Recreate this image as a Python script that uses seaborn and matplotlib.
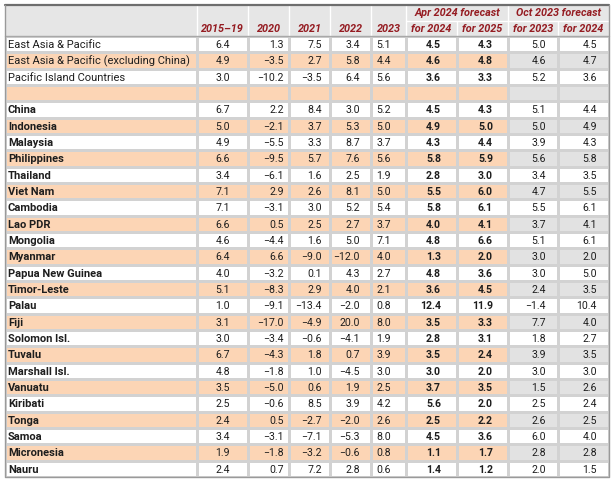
import numpy as np
import pandas as pd
import seaborn as sns
import matplotlib
matplotlib.use("Agg")
import matplotlib.pyplot as plt
from matplotlib.colors import ListedColormap
from matplotlib import font_manager as fm

# ---------------- data ----------------
names = ["East Asia & Pacific", "East Asia & Pacific (excluding China)", "Pacific Island Countries", "",
         "China", "Indonesia", "Malaysia", "Philippines", "Thailand", "Viet Nam", "Cambodia", "Lao PDR",
         "Mongolia", "Myanmar", "Papua New Guinea", "Timor-Leste", "Palau", "Fiji", "Solomon Isl.",
         "Tuvalu", "Marshall Isl.", "Vanuatu", "Kiribati", "Tonga", "Samoa", "Micronesia", "Nauru"]
is_aggregate = [True, True, True, True] + [False] * 23

avg_2015_19 = [6.4, 4.9, 3.0, None, 6.7, 5.0, 4.9, 6.6, 3.4, 7.1, 7.1, 6.6, 4.6, 6.4, 4.0, 5.1, 1.0, 3.1, 3.0, 6.7, 4.8, 3.5, 2.5, 2.4, 3.4, 1.9, 2.4]
y2020 = [1.3, -3.5, -10.2, None, 2.2, -2.1, -5.5, -9.5, -6.1, 2.9, -3.1, 0.5, -4.4, 6.6, -3.2, -8.3, -9.1, -17.0, -3.4, -4.3, -1.8, -5.0, -0.6, 0.5, -3.1, -1.8, 0.7]
y2021 = [7.5, 2.7, -3.5, None, 8.4, 3.7, 3.3, 5.7, 1.6, 2.6, 3.0, 2.5, 1.6, -9.0, 0.1, 2.9, -13.4, -4.9, -0.6, 1.8, 1.0, 0.6, 8.5, -2.7, -7.1, -3.2, 7.2]
y2022 = [3.4, 5.8, 6.4, None, 3.0, 5.3, 8.7, 7.6, 2.5, 8.1, 5.2, 2.7, 5.0, -12.0, 4.3, 4.0, -2.0, 20.0, -4.1, 0.7, -4.5, 1.9, 3.9, -2.0, -5.3, -0.6, 2.8]
y2023 = [5.1, 4.4, 5.6, None, 5.2, 5.0, 3.7, 5.6, 1.9, 5.0, 5.4, 3.7, 7.1, 4.0, 2.7, 2.1, 0.8, 8.0, 1.9, 3.9, 3.0, 2.5, 4.2, 2.6, 8.0, 0.8, 0.6]
apr_for_2024 = [4.5, 4.6, 3.6, None, 4.5, 4.9, 4.3, 5.8, 2.8, 5.5, 5.8, 4.0, 4.8, 1.3, 4.8, 3.6, 12.4, 3.5, 2.8, 3.5, 3.0, 3.7, 5.6, 2.5, 4.5, 1.1, 1.4]
apr_for_2025 = [4.3, 4.8, 3.3, None, 4.3, 5.0, 4.4, 5.9, 3.0, 6.0, 6.1, 4.1, 6.6, 2.0, 3.6, 4.5, 11.9, 3.3, 3.1, 2.4, 2.0, 3.5, 2.0, 2.2, 3.6, 1.7, 1.2]
oct_for_2023 = [5.0, 4.6, 5.2, None, 5.1, 5.0, 3.9, 5.6, 3.4, 4.7, 5.5, 3.7, 5.1, 3.0, 3.0, 2.4, -1.4, 7.7, 1.8, 3.9, 3.0, 1.5, 2.5, 2.6, 6.0, 2.8, 2.0]
oct_for_2024 = [4.5, 4.7, 3.6, None, 4.4, 4.9, 4.3, 5.8, 3.5, 5.5, 6.1, 4.1, 6.1, 2.0, 5.0, 3.5, 10.4, 4.0, 2.7, 3.5, 3.0, 2.6, 2.4, 2.5, 4.0, 2.8, 1.5]

col_labels = ["2015\u201319", "2020", "2021", "2022", "2023", "for 2024", "for 2025", "for 2023", "for 2024"]
group_labels = ["Apr 2024 forecast", "Oct 2023 forecast"]

columns = [avg_2015_19, y2020, y2021, y2022, y2023, apr_for_2024, apr_for_2025, oct_for_2023, oct_for_2024]
df = pd.DataFrame(dict(zip(range(len(columns)), columns)))
df.insert(0, "name", names)

# ---------------- style ----------------
sns.set_theme(style="white")
avail = {f.name for f in fm.fontManager.ttflist}
if "Liberation Sans Narrow" in avail:
    FONT, FS, FS_NAME, FS_HEAD = "Liberation Sans Narrow", 8.9, 9.6, 9.3
else:
    FONT, FS, FS_NAME, FS_HEAD = "Roboto", 7.6, 8.0, 7.8
plt.rcParams["font.family"] = [FONT, "DejaVu Sans"]

W, H = 613, 480
fig = plt.figure(figsize=(W / 100, H / 100), dpi=100)

ORANGE = "#fcd5b5"
GRAY = "#e2e2e2"
HEAD_BG = "#e6e6e6"
GRID = "#d2d2d2"
HEAD_TXT = "#951c22"
TXT = "#1e1e1e"

# layout (pixels)
edges = [5, 197, 248, 289, 330, 371, 406, 457, 508, 558, 609]
num_right = [230, 284, 322, 360, 391, 441, 493, 546, 597]
top, head_bot, bottom = 5, 36, 477
n = len(names)

def add_px_axes(x0, x1, y0, y1):
    return fig.add_axes([x0 / W, (H - y1) / H, (x1 - x0) / W, (y1 - y0) / H])

# shading codes: 0 white, 1 orange, 2 gray
stripe = np.array([i % 2 for i in range(n)])
cmap = ListedColormap(["white", ORANGE, GRAY])

def fmt(v):
    return "" if v is None or (isinstance(v, float) and np.isnan(v)) else f"{v:.1f}".replace("-", "\u2212")

# name column
ax = add_px_axes(edges[0], edges[1], head_bot, bottom)
sns.heatmap(stripe.reshape(-1, 1), ax=ax, cmap=cmap, vmin=-0.5, vmax=2.5,
            cbar=False, linewidths=0.9, linecolor=GRID, xticklabels=False, yticklabels=False)
for i, nm in enumerate(df["name"]):
    ax.text(3.0 / (edges[1] - edges[0]), i + 0.55, nm, ha="left", va="center", fontsize=FS_NAME, color=TXT,
            fontweight="normal" if is_aggregate[i] else "bold")

# numeric columns
for j in range(len(columns)):
    x0, x1 = edges[j + 1], edges[j + 2]
    ax = add_px_axes(x0, x1, head_bot, bottom)
    codes = stripe * (2 if j >= 7 else 1)
    sns.heatmap(codes.reshape(-1, 1), ax=ax, cmap=cmap, vmin=-0.5, vmax=2.5,
                cbar=False, linewidths=0.9, linecolor=GRID, xticklabels=False, yticklabels=False)
    for i, v in enumerate(df[j]):
        ax.text((num_right[j] - x0) / (x1 - x0), i + 0.55, fmt(v), ha="right", va="center", fontsize=FS,
                color=TXT, fontweight="bold" if j in (5, 6) else "normal")

# header + borders (pixel axes over whole figure)
hx = fig.add_axes([0, 0, 1, 1], facecolor="none")
hx.set_xlim(0, W)
hx.set_ylim(H, 0)
hx.axis("off")
hx.add_patch(plt.Rectangle((edges[0], top), edges[-1] - edges[0], head_bot - top, facecolor=HEAD_BG, edgecolor="none"))
mid = (top + head_bot) / 2 + 0.5
for e in edges[1:-1]:
    ystart = mid if e in (457, 558) else top
    hx.plot([e, e], [ystart, head_bot], color="white", lw=1.0)
hx.plot([edges[6], edges[-1]], [mid, mid], color="white", lw=1.0)
for j, lab in enumerate(col_labels):
    cx = (edges[j + 1] + edges[j + 2]) / 2
    hx.text(cx, (mid + head_bot) / 2 + 0.5, lab, ha="center", va="center", fontsize=FS_HEAD, color=HEAD_TXT,
            fontweight="bold", fontstyle="italic")
for g, lab in enumerate(group_labels):
    cx = (edges[6 + 2 * g] + edges[8 + 2 * g]) / 2
    hx.text(cx, (top + mid) / 2 + 0.5, lab, ha="center", va="center", fontsize=FS_HEAD, color=HEAD_TXT,
            fontweight="bold", fontstyle="italic")
# borders
hx.plot([edges[0], edges[-1]], [head_bot, head_bot], color="#a8a8a8", lw=1.0)
hx.plot([edges[0], edges[-1]], [top, top], color="#6e6e6e", lw=1.6)
hx.plot([edges[0], edges[0], edges[-1], edges[-1]], [top, bottom, bottom, top], color="#9a9a9a", lw=1.0)

fig.savefig("out.png", dpi=100)
